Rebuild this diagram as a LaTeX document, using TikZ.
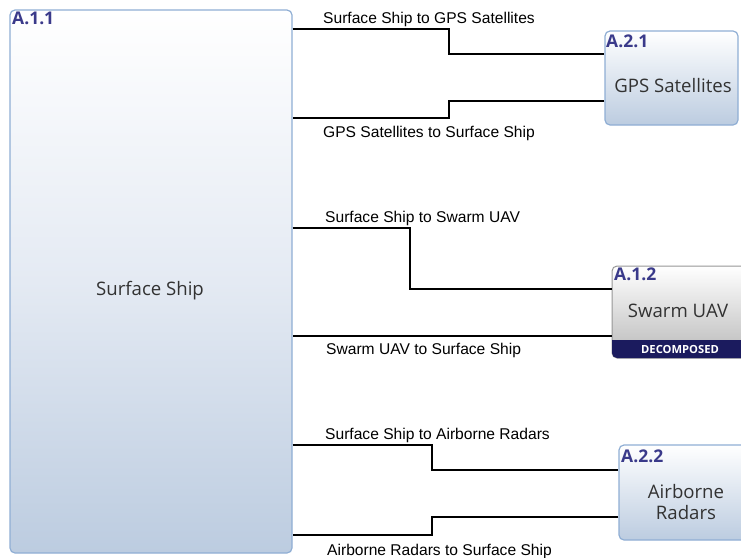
\documentclass[tikz,border=0pt]{standalone}
\usepackage{fontspec}
\setmainfont{Open Sans}
\newfontfamily\arialfont{Liberation Sans}
\definecolor{bborder}{RGB}{143,174,212}
\definecolor{bfill}{RGB}{188,204,224}
\definecolor{bmid}{RGB}{228,234,243}
\definecolor{gborder}{RGB}{150,150,150}
\definecolor{gfill}{RGB}{185,185,185}
\definecolor{idcol}{RGB}{58,58,138}
\definecolor{namecol}{RGB}{50,50,50}
\definecolor{navy}{RGB}{27,27,94}
\begin{document}
\begin{tikzpicture}[x=1pt,y=-1pt,
  bluebox/.style={draw=bborder, line width=1.2pt, rounded corners=5pt,
    top color=white, bottom color=bfill, inner sep=0pt},
  shipbox/.style={bluebox, top color=white, bottom color=bfill, middle color=bmid},
  graybox/.style={draw=gborder, line width=1pt, rounded corners=5pt,
    top color=white, bottom color=gfill, inner sep=0pt},
  idlabel/.style={anchor=west, inner sep=0pt, font=\fontsize{17.5}{17.5}\selectfont\bfseries, text=idcol},
  namelabel/.style={inner sep=0pt, align=center, font=\fontsize{18.6}{21}\selectfont, text=namecol},
  connlabel/.style={anchor=west, inner sep=0pt, font=\arialfont\fontsize{15.6}{15.6}\selectfont},
  conn/.style={draw=black, line width=2.2pt}
]
\useasboundingbox (0,0) rectangle (741,557);
% boxes
\node[shipbox, minimum width=282pt, minimum height=543pt] (ship) at (151,281.5) {};
\node[bluebox, minimum width=133pt, minimum height=94pt] (gps) at (671.5,78) {};
\node[graybox, minimum width=140pt, minimum height=92pt] (uav) at (682,312) {};
\node[bluebox, minimum width=130pt, minimum height=95pt] (radar) at (684,492.5) {};
% decomposed band
\fill[navy, rounded corners=5pt] (612,340) -- (612,358) -- (760,358) -- (760,340) -- cycle;
\fill[navy] (612,340) rectangle (760,349);
\node[inner sep=0pt, text=white, font=\fontsize{11.2}{11.2}\selectfont\bfseries] (dec) at (680,349.5) {DECOMPOSED};
% id labels
\node[idlabel] (id111) at (12,18) {A.1.1};
\node[idlabel] (id121) at (606,41) {A.2.1};
\node[idlabel] (id112) at (614,274) {A.1.2};
\node[idlabel] (id122) at (621,456) {A.2.2};
% names
\node[namelabel] (nship) at (150,291) {Surface Ship};
\node[namelabel] (ngps) at (673,86) {GPS Satellites};
\node[namelabel] (nuav) at (678,311) {Swarm UAV};
\node[namelabel] (nradar) at (686,502) {Airborne\\Radars};
% connectors
\draw[conn] (ship.east |- 0,29) -- (449,29) -- (449,54) -- (gps.west |- 0,54);
\draw[conn] (gps.west |- 0,101) -- (449,101) -- (449,118) -- (ship.east |- 0,118);
\draw[conn] (ship.east |- 0,228) -- (410,228) -- (410,289) -- (uav.west |- 0,289);
\draw[conn] (uav.west |- 0,336) -- (ship.east |- 0,336);
\draw[conn] (ship.east |- 0,445) -- (432,445) -- (432,470) -- (radar.west |- 0,470);
\draw[conn] (radar.west |- 0,517) -- (432,517) -- (432,535) -- (ship.east |- 0,535);
% connector labels
\node[connlabel] (l1) at (323,19) {Surface Ship to GPS Satellites};
\node[connlabel] (l2) at (323,133) {GPS Satellites to Surface Ship};
\node[connlabel] (l3) at (325,218) {Surface Ship to Swarm UAV};
\node[connlabel] (l4) at (326,350) {Swarm UAV to Surface Ship};
\node[connlabel] (l5) at (325,435) {Surface Ship to Airborne Radars};
\node[connlabel] (l6) at (327,551) {Airborne Radars to Surface Ship};
\end{tikzpicture}
\end{document}
